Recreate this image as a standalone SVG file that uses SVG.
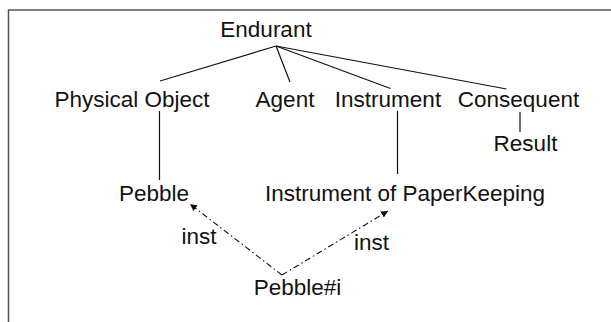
<svg xmlns="http://www.w3.org/2000/svg" width="611" height="322" viewBox="0 0 611 322">
<style>
text{font-family:"Liberation Sans",Arial,sans-serif;font-size:22.5px;fill:#111;text-anchor:middle}
.e{stroke:#111;stroke-width:1.2;fill:none}
.d{stroke:#111;stroke-width:1.1;fill:none;stroke-dasharray:6 3 1.5 3}
</style>
<defs>
<marker id="ah" viewBox="0 0 10 10" refX="10" refY="5" markerWidth="7" markerHeight="7" orient="auto" markerUnits="userSpaceOnUse">
<path d="M0,0 L10,5 L0,10 Z" fill="#111"/>
</marker>
</defs>
<rect x="0" y="0" width="611" height="322" fill="#fff"/>
<path d="M8.5,322 V10 H611" fill="none" stroke="#555" stroke-width="1.5"/>
<g id="connectors">
<line class="e" x1="276" y1="46" x2="160" y2="81"/>
<line class="e" x1="276" y1="46" x2="290" y2="82"/>
<line class="e" x1="276" y1="46" x2="390.5" y2="88.5"/>
<line class="e" x1="276" y1="46" x2="506.5" y2="89"/>
<line class="e" x1="159.5" y1="111" x2="159.5" y2="180"/>
<line class="e" x1="397.5" y1="111" x2="397.5" y2="174"/>
<line class="e" x1="520" y1="112" x2="520" y2="132"/>
<line class="d" x1="282" y1="275" x2="190" y2="204" marker-end="url(#ah)"/>
<line class="d" x1="282" y1="275" x2="388" y2="211" marker-end="url(#ah)"/>
</g>
<g id="endurant"><text x="266" y="37">Endurant</text></g>
<g id="physical-object"><text x="132" y="107">Physical Object</text></g>
<g id="agent"><text x="285" y="107">Agent</text></g>
<g id="instrument"><text x="388" y="107">Instrument</text></g>
<g id="consequent"><text x="518.5" y="107">Consequent</text></g>
<g id="result"><text x="525.5" y="151">Result</text></g>
<g id="pebble"><text x="154" y="201">Pebble</text></g>
<g id="instrument-of-paperkeeping"><text x="405" y="201">Instrument of PaperKeeping</text></g>
<g id="pebble-i"><text x="297.5" y="295">Pebble#i</text></g>
<g id="labels">
<text x="199" y="244">inst</text>
<text x="371.5" y="250">inst</text>
</g>
</svg>
